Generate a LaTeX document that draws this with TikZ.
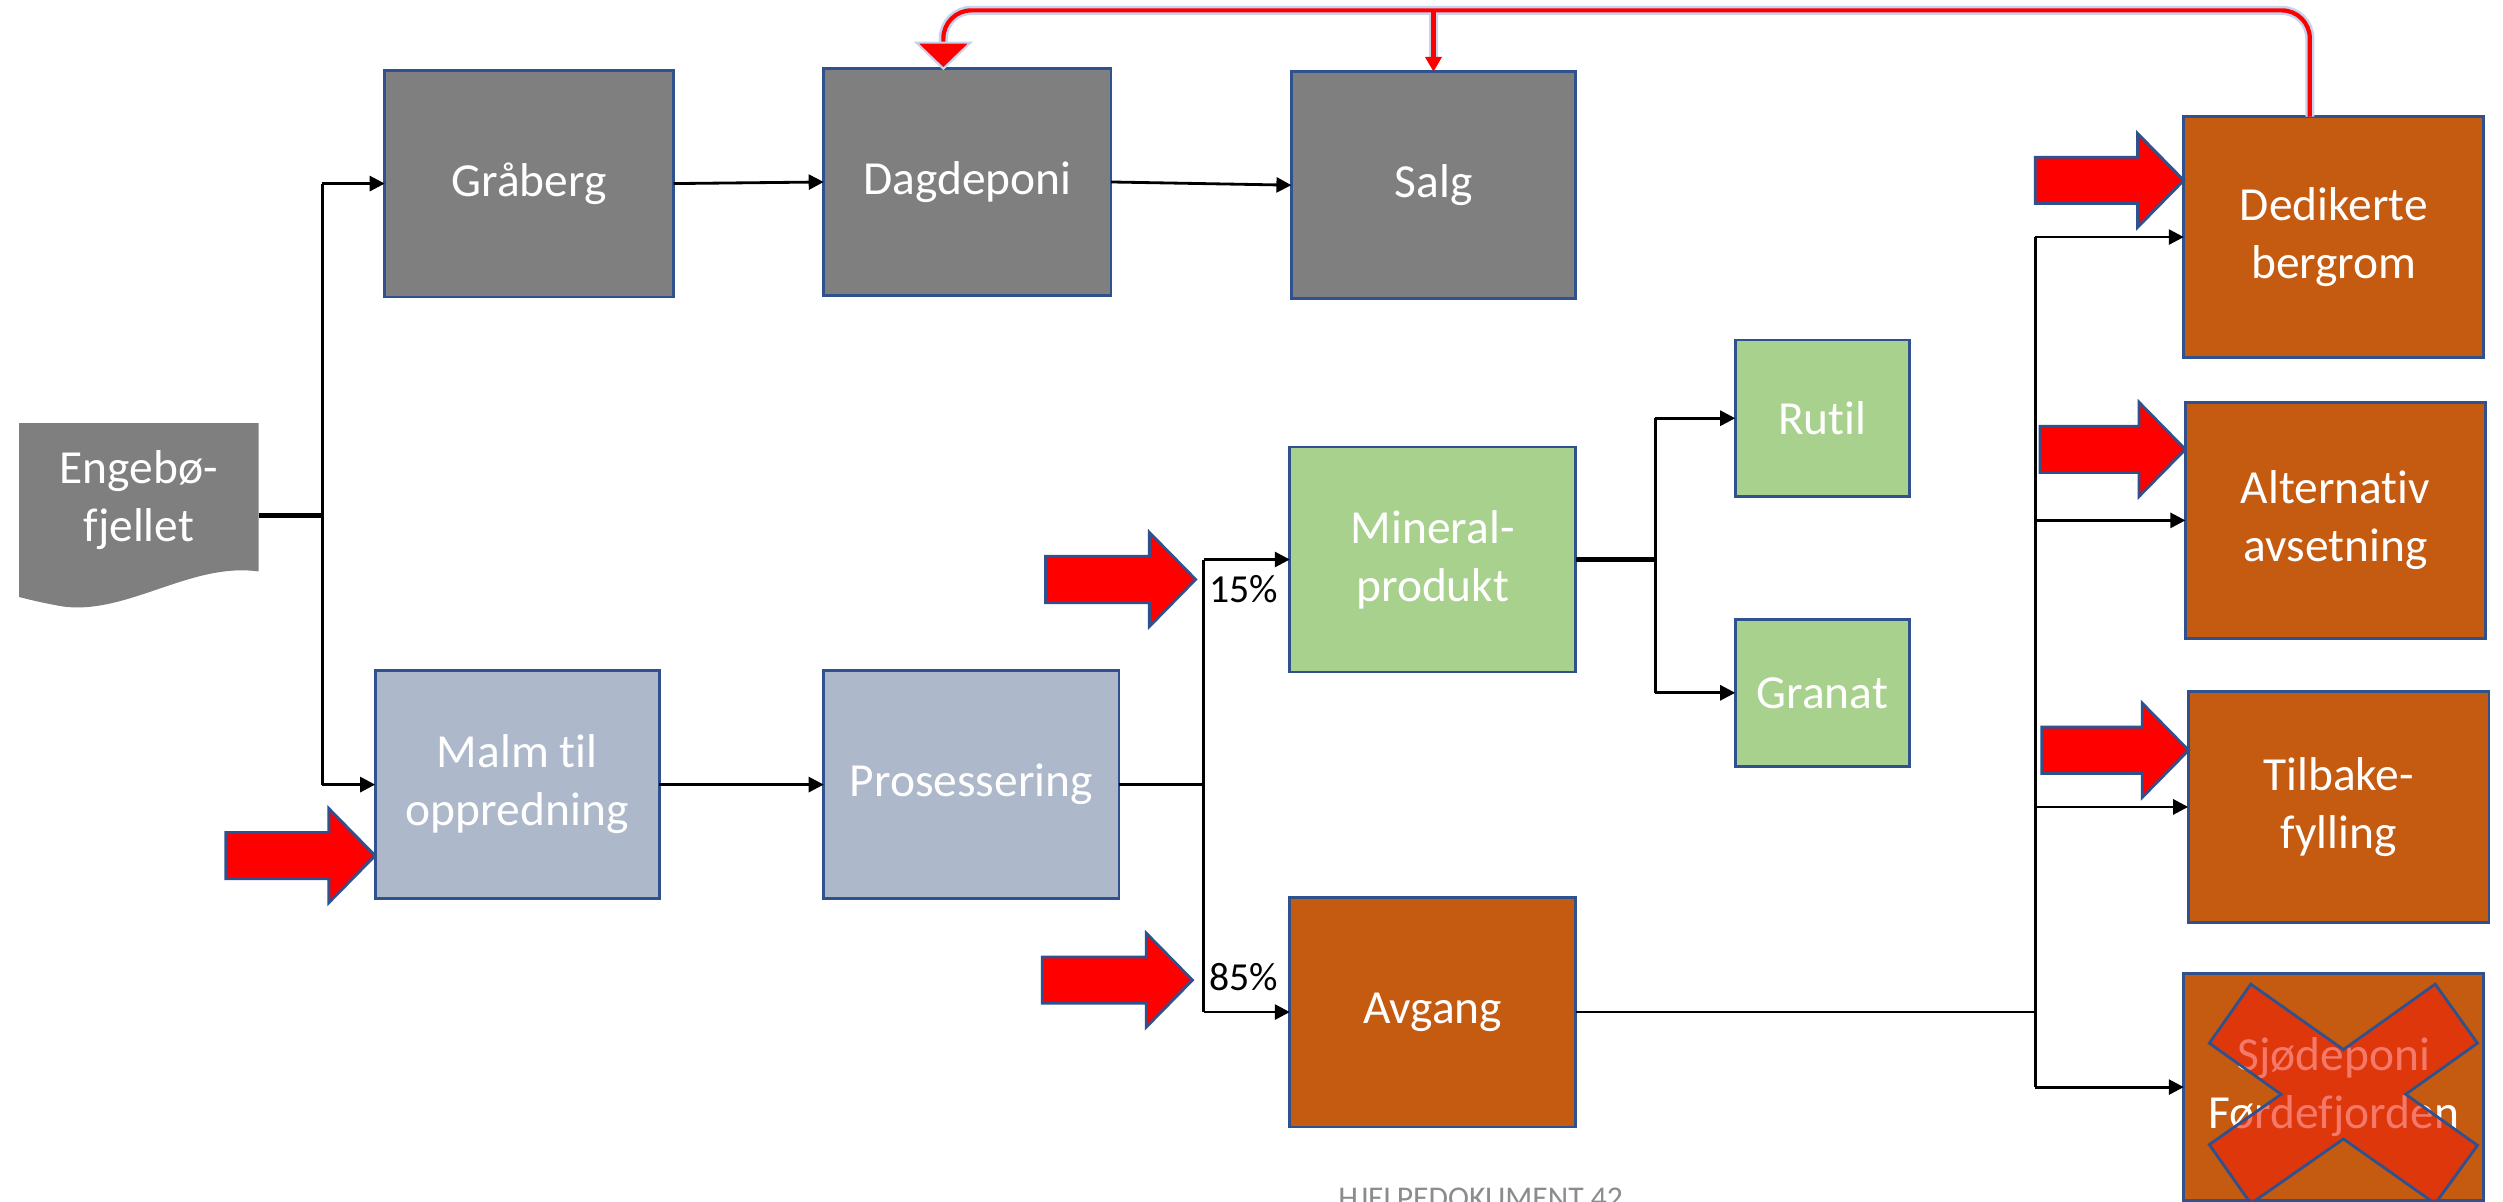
\documentclass[tikz,border=0pt]{standalone}
\usepackage{fontspec}
\setmainfont{Carlito}[Ligatures={NoCommon,NoContextual}]
\usetikzlibrary{arrows.meta}
\definecolor{boxgray}{HTML}{7F7F7F}
\definecolor{bluegray}{HTML}{ADB9CA}
\definecolor{mgreen}{HTML}{A9D18E}
\definecolor{mbrown}{HTML}{C55A11}
\definecolor{bordblue}{HTML}{2F528F}
\definecolor{glowblue}{HTML}{C5D3EC}
\definecolor{xred}{HTML}{EF2108}
\definecolor{footgray}{HTML}{8C8C8C}
\newcommand\pxu{0.1596mm}
\tikzset{
  box/.style={draw=bordblue, line width=0.8pt, inner sep=0pt, outer sep=0pt,
    text=white, font=\fontsize{13.5}{16.5}\selectfont, align=center},
  sz/.style 2 args={minimum width=#1*\pxu, minimum height=#2*\pxu},
  plainline/.style={line width=0.8pt},
  thickline/.style={line width=1.3pt},
  conn/.style={line width=0.8pt, -{Triangle[length=1.5mm,width=1.5mm]}},
  lbl/.style={font=\fontsize{11.3}{13}\selectfont, text=black, inner sep=0pt},
  redline/.style={draw=red, line width=1.2pt},
  glowline/.style={draw=glowblue, line width=2.6pt},
  pics/redarrow/.style={code={
    \draw[fill=red, draw=bordblue, line width=0.8pt, line join=miter]
      (0,0) -- (-29,-29.5) -- (-29,-14.5) -- (-#1,-14.5) -- (-#1,14.5)
      -- (-29,14.5) -- (-29,29.5) -- cycle;}}
}
\begin{document}
\begin{tikzpicture}[x=0.1596mm,y=-0.1596mm]
\clip (0,0) rectangle (1568,752.4);
\fill[white] (0,0) rectangle (1568,752.4);

% Engebo document shape
\fill[boxgray] (12,265) -- (162,265) -- (162,358)
  .. controls (120,352) and (80,385) .. (40,380)
  .. controls (28,378) and (20,376) .. (12,374) -- cycle;
\node[text=white, font=\fontsize{13.5}{16.5}\selectfont, align=center, inner sep=0pt] (eng) at (87,313) {Engebø-\\fjellet};
\coordinate (engE) at (162,323);

% boxes
\node[box, fill=boxgray, sz={181}{142}] (grab) at (331.5,115) {Gråberg};
\node[box, fill=boxgray, sz={180}{142}] (dag) at (606,114) {Dagdeponi};
\node[box, fill=boxgray, sz={178}{142}] (salg) at (898,116) {Salg};
\node[box, fill=bluegray, sz={178}{143}] (malm) at (324,491.5) {Malm til\\oppredning};
\node[box, fill=bluegray, sz={185}{143}] (pros) at (608.5,491.5) {Prosessering};
\node[box, fill=mgreen, sz={179}{141}] (min) at (897.5,350.5) {Mineral-\\produkt};
\node[box, fill=mgreen, sz={109}{98}] (rutil) at (1141.5,262) {Rutil};
\node[box, fill=mgreen, sz={109}{92}] (granat) at (1141.5,434) {Granat};
\node[box, fill=mbrown, sz={179}{144}] (avg) at (897.5,634) {Avgang};
\node[box, fill=mbrown, sz={188}{151}] (ded) at (1462,148.5) {Dedikerte\\bergrom};
\node[box, fill=mbrown, sz={188}{147.5}] (alt) at (1463,326) {Alternativ\\avsetning};
\node[box, fill=mbrown, sz={188.5}{145}] (til) at (1465,505.5) {Tilbake-\\fylling};
\node[box, fill=mbrown, sz={188}{142}] (sjo) at (1462,681) {Sjødeponi\\Førdefjorden};

% red X over Sjodeponi
\draw[fill=xred, fill opacity=0.6, draw=bordblue, line width=0.8pt, line join=miter]
  (1410,616.5) -- (1468,657.5) -- (1525.5,616.5) -- (1552,653.5) -- (1507,685.5)
  -- (1552,717.5) -- (1525.5,754) -- (1468,713.5) -- (1410,754) -- (1384,717)
  -- (1429,685.5) -- (1384,653.5) -- cycle;

% connectors from Engebo
\coordinate (j1) at (202,323);
\draw[thickline] (engE) -- (j1);
\draw[plainline] (j1 |- grab.west) -- (j1 |- malm.west);
\draw[conn] (j1 |- grab.west) -- (grab.west);
\draw[conn] (j1 |- malm.west) -- (malm.west);
\draw[conn] (grab.east) -- (dag.west);
\draw[conn] (dag.east) -- (salg.west);
\draw[conn] (malm.east) -- (pros.west);

% processing split
\coordinate (j2) at (754,491.5);
\draw[plainline] (pros.east) -- (j2);
\draw[plainline] (j2 |- min.west) -- (j2 |- avg.west);
\draw[conn] (j2 |- min.west) -- (min.west);
\draw[conn] (j2 |- avg.west) -- (avg.west);
\node[lbl] (p15) at (779,369) {15\%};
\node[lbl] (p85) at (779,612) {85\%};

% mineral split
\coordinate (j3) at (1037,350.5);
\draw[thickline] (min.east) -- (j3);
\draw[plainline] (j3 |- rutil.west) -- (j3 |- granat.west);
\draw[conn] (j3 |- rutil.west) -- (rutil.west);
\draw[conn] (j3 |- granat.west) -- (granat.west);

% avgang split
\coordinate (j4) at (1275,634);
\draw[plainline] (avg.east) -- (j4);
\draw[plainline] (j4 |- ded.west) -- (j4 |- sjo.west);
\draw[conn] (j4 |- ded.west) -- (ded.west);
\draw[conn] (j4 |- alt.west) -- (alt.west);
\draw[conn] (j4 |- til.west) -- (til.west);
\draw[conn] (j4 |- sjo.west) -- (sjo.west);

% red block arrows
\pic at (235,536) {redarrow=93.5};
\pic at (749,363) {redarrow=94};
\pic at (747,614) {redarrow=94};
\pic at (1368,113) {redarrow=93};
\pic at (1369,281.5) {redarrow=91};
\pic at (1371,470) {redarrow=92};

% red feedback line
\coordinate (rt) at (0,6.5);
\coordinate (redS) at ([xshift=-2.4mm]ded.north);
\coordinate (dagT) at ([xshift=-2.4mm]dag.north);
\coordinate (dagB) at ([yshift=2.6mm]dagT);
\draw[glowline, rounded corners=2.8mm] (redS) -- (redS |- rt) -- (dagB |- rt) -- (dagB);
\draw[glowline] (salg.north |- rt) -- ([yshift=1.4mm]salg.north);
\draw[redline, rounded corners=2.8mm] (redS) -- (redS |- rt) -- (dagB |- rt) -- (dagB);
\draw[redline, -{Triangle[length=1.5mm,width=1.6mm]}] (salg.north |- rt) -- (salg.north);
\draw[fill=red, draw=glowblue, line width=0.6pt, line join=miter] (dagT) -- ([xshift=-2.7mm]dagB) -- ([xshift=2.7mm]dagB) -- cycle;

% footer (cut off at the lower edge, as in the reference)
\node[font=\fontsize{9}{10}\selectfont, text=footgray, anchor=north, inner sep=0pt] (foot) at (927.5,744) {HJELPEDOKUMENT 42};
\end{tikzpicture}
\end{document}
